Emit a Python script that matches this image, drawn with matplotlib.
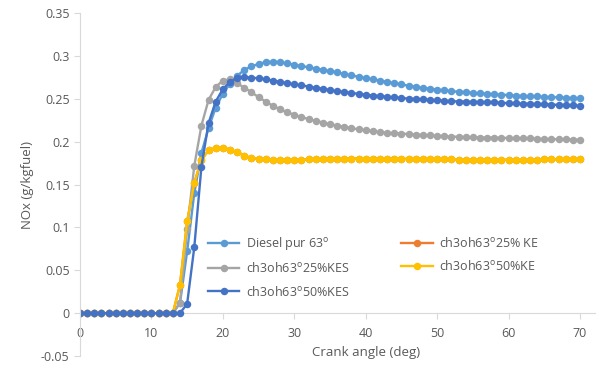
import matplotlib
matplotlib.use("Agg")
import matplotlib.pyplot as plt

plt.rcParams['font.family'] = ['Open Sans', 'DejaVu Sans']
plt.rcParams['mathtext.fontset'] = 'custom'
plt.rcParams['mathtext.rm'] = 'Open Sans'

crank_angle = list(range(0, 71))

zeros14 = [0.0] * 14

diesel_pur = zeros14 + [
    0.012, 0.072, 0.140, 0.187, 0.216, 0.240, 0.256, 0.268, 0.277, 0.284,
    0.288, 0.291, 0.293, 0.2935, 0.293, 0.2915, 0.290, 0.2885, 0.287, 0.2855,
    0.284, 0.2825, 0.281, 0.279, 0.2775, 0.276, 0.2745, 0.273, 0.2715, 0.270,
    0.2685, 0.267, 0.2655, 0.2645, 0.263, 0.262, 0.261, 0.260, 0.259, 0.2585,
    0.258, 0.257, 0.2565, 0.256, 0.2555, 0.255, 0.2545, 0.254, 0.2535, 0.253,
    0.253, 0.2525, 0.252, 0.252, 0.2515, 0.251, 0.251]

kes25 = zeros14 + [
    0.012, 0.098, 0.172, 0.219, 0.249, 0.264, 0.2715, 0.273, 0.2685, 0.263,
    0.258, 0.252, 0.247, 0.242, 0.238, 0.2345, 0.2315, 0.229, 0.2265, 0.2245,
    0.2225, 0.2205, 0.219, 0.2175, 0.216, 0.2145, 0.2135, 0.2125, 0.2115, 0.2105,
    0.210, 0.2095, 0.209, 0.2085, 0.208, 0.2075, 0.207, 0.2065, 0.206, 0.206,
    0.2055, 0.2055, 0.205, 0.205, 0.205, 0.2045, 0.2045, 0.204, 0.204, 0.204,
    0.2035, 0.2035, 0.203, 0.203, 0.203, 0.2025, 0.2025]

ke50 = zeros14 + [
    0.033, 0.107, 0.152, 0.179, 0.190, 0.193, 0.193, 0.191, 0.188, 0.184,
    0.181, 0.180, 0.1795, 0.179, 0.179, 0.179, 0.179, 0.179, 0.1795, 0.1795,
    0.180, 0.1805, 0.1805, 0.1805, 0.1805, 0.1805, 0.1805, 0.1805, 0.1805, 0.1805,
    0.1805, 0.180, 0.180, 0.180, 0.180, 0.180, 0.1795, 0.1795, 0.1795, 0.179,
    0.179, 0.179, 0.179, 0.179, 0.179, 0.179, 0.179, 0.1785, 0.1785, 0.179,
    0.179, 0.1795, 0.1795, 0.1795, 0.1795, 0.1795, 0.1795]

# hidden beneath the 50% KE series in the reference
ke25 = zeros14 + [
    0.033, 0.107, 0.152, 0.179, 0.190, 0.193, 0.193, 0.191, 0.188, 0.184,
    0.181, 0.180, 0.1795, 0.179, 0.179, 0.179, 0.179, 0.179, 0.1795, 0.1795,
    0.180, 0.1805, 0.1805, 0.1805, 0.1805, 0.1805, 0.1805, 0.1805, 0.1805, 0.1805,
    0.1805, 0.180, 0.180, 0.180, 0.180, 0.180, 0.1795, 0.1795, 0.1795, 0.179,
    0.179, 0.179, 0.179, 0.179, 0.179, 0.179, 0.179, 0.1785, 0.1785, 0.179,
    0.179, 0.1795, 0.1795, 0.1795, 0.1795, 0.1795, 0.1795]

kes50 = [0.0] * 15 + [
    0.011, 0.077, 0.171, 0.222, 0.247, 0.2615, 0.270, 0.2745, 0.2755,
    0.275, 0.274, 0.273, 0.2715, 0.270, 0.2685, 0.267, 0.266, 0.2645, 0.263,
    0.262, 0.2605, 0.259, 0.258, 0.257, 0.256, 0.255, 0.254, 0.2535, 0.2525,
    0.252, 0.251, 0.2505, 0.250, 0.2495, 0.249, 0.2485, 0.248, 0.2475, 0.247,
    0.247, 0.2465, 0.2465, 0.246, 0.246, 0.2455, 0.245, 0.245, 0.2445, 0.2445,
    0.244, 0.244, 0.2435, 0.243, 0.243, 0.2425, 0.242]

labels = ["Diesel pur 63$^{\\mathrm{o}}$", "ch3oh63$^{\\mathrm{o}}$25% KE",
          "ch3oh63$^{\\mathrm{o}}$25%KES", "ch3oh63$^{\\mathrm{o}}$50%KE",
          "ch3oh63$^{\\mathrm{o}}$50%KES"]
colors = ["#5B9BD5", "#ED7D31", "#A5A5A5", "#FFC000", "#4472C4"]
series = [diesel_pur, ke25, kes25, ke50, kes50]

fig = plt.figure(figsize=(5.99, 3.70), dpi=100)
ax = fig.add_axes([80 / 599, 1 - 356 / 370, (595 - 80) / 599, (356 - 13.3) / 370])

handles = []
for vals, c, lab in zip(series, colors, labels):
    h, = ax.plot(crank_angle, vals, color=c, lw=1.7, marker='o', ms=5.4,
                 markeredgewidth=0, label=lab)
    handles.append(h)

ax.set_xlim(0, 72.1)
ax.set_ylim(-0.05, 0.35)
ax.set_xticks(range(0, 71, 10))
ax.set_yticks([-0.05, 0, 0.05, 0.1, 0.15, 0.2, 0.25, 0.3, 0.35])
ax.set_yticklabels(["-0.05", "0", "0.05", "0.1", "0.15", "0.2", "0.25", "0.3", "0.35"])

for s in ['top', 'right']:
    ax.spines[s].set_visible(False)
ax.spines['bottom'].set_position(('data', 0))
ax.spines['bottom'].set_color('#d9d9d9')
ax.spines['left'].set_color('#d9d9d9')
ax.spines['bottom'].set_zorder(0)
ax.tick_params(axis='both', colors='#d9d9d9', labelcolor='#595959', labelsize=9,
               length=4, width=0.8)
ax.tick_params(axis='x', pad=6)
ax.set_xlabel("Crank angle (deg)", color='#595959', fontsize=9.5)
ax.xaxis.set_label_coords(0.555, 0.028)
ax.set_ylabel("NOx (g/kgfuel)", color='#595959', fontsize=9.5, labelpad=5)

order = [0, 2, 4, 1, 3]
leg = ax.legend([handles[i] for i in order], [labels[i] for i in order],
                ncol=2, loc='upper left', bbox_to_anchor=(208 / 599, 1 - 235 / 370),
                bbox_transform=fig.transFigure, frameon=False, fontsize=9,
                handlelength=2.5, handletextpad=0.5, columnspacing=4.2,
                labelspacing=0.75, borderpad=0, borderaxespad=0)
for t in leg.get_texts():
    t.set_color('#595959')

fig.savefig("out.png", dpi=100)
